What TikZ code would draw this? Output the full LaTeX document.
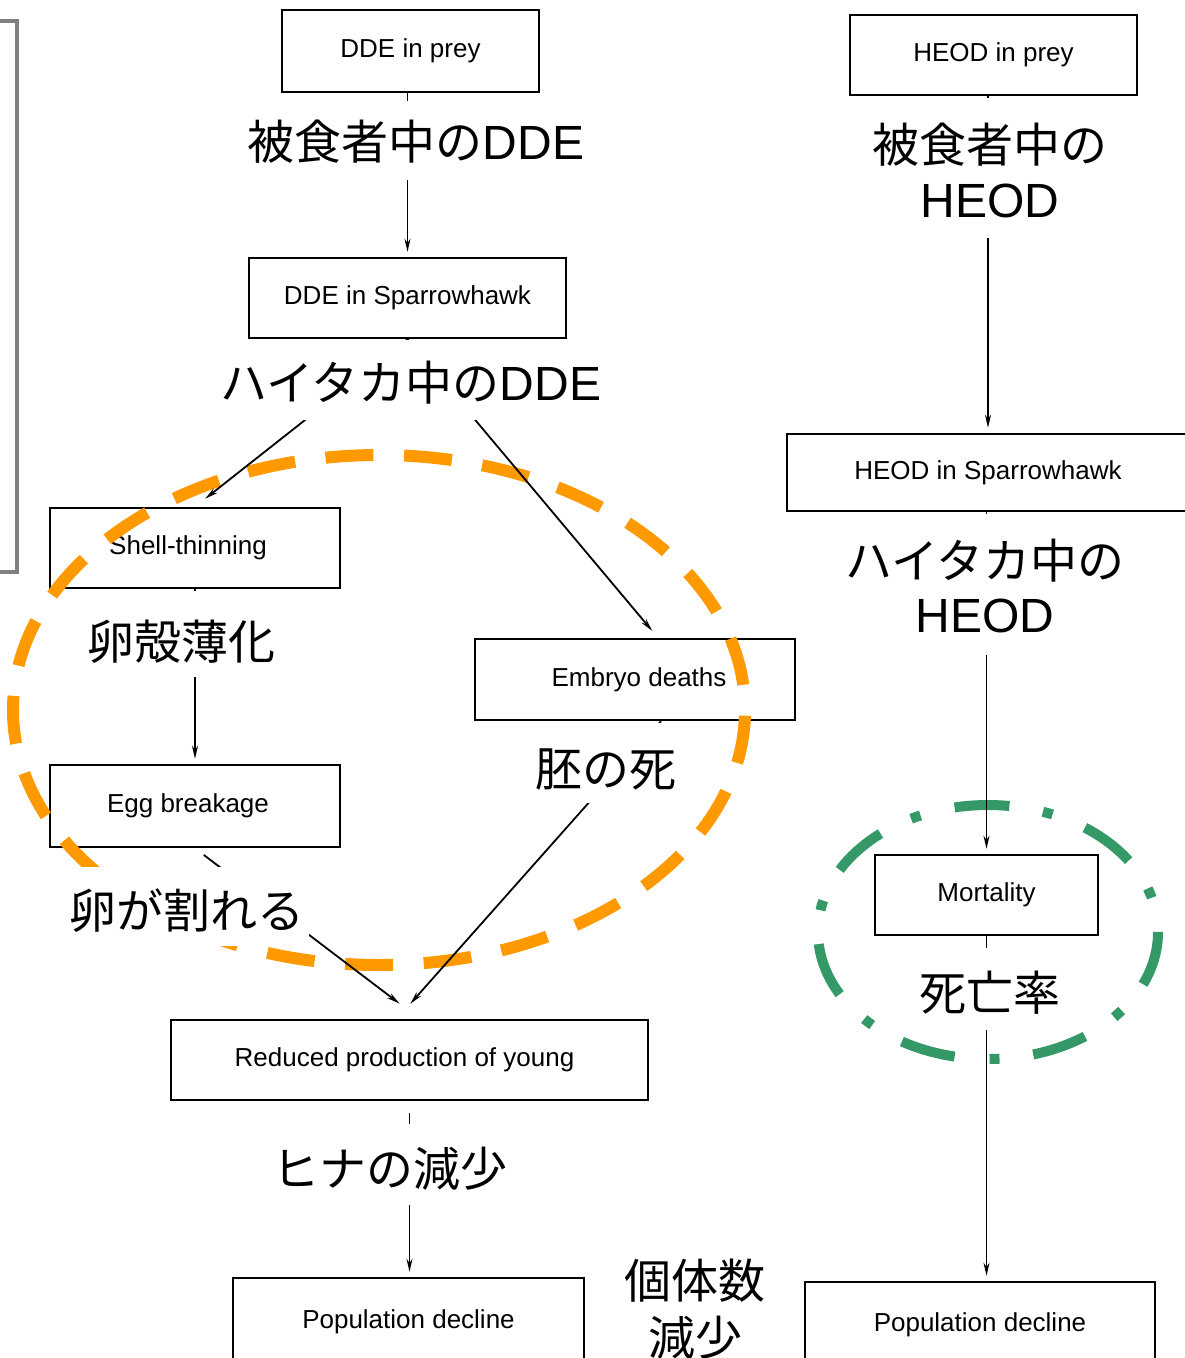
\documentclass[tikz,border=0pt]{standalone}
\usepackage{fontspec}
\setmainfont{Liberation Sans}
\newfontfamily\jpfont{Noto Sans CJK JP}
\newfontfamily\latfont{Liberation Sans}
\newcommand\mylat[1]{{\latfont\fontsize{48}{55}\selectfont #1}}
\usetikzlibrary{arrows.meta}
\definecolor{ora}{RGB}{255,153,0}
\definecolor{grn}{RGB}{52,153,102}
\definecolor{framegray}{RGB}{128,128,128}
\begin{document}
\begin{tikzpicture}[x=1pt,y=-1pt,
 box/.style={draw, line width=2.5pt, inner sep=0pt, font=\fontsize{26}{30}\selectfont},
 jlab/.style 2 args={fill=white, anchor=base, inner xsep=4pt, inner ysep=0pt,
   text height=#1, text depth=#2, font=\jpfont\fontsize{47}{55}\selectfont},
 arr/.style={line width=1.8pt, -{Stealth[length=13pt,width=6pt]}, shorten >=5pt},
 oval/.style={line width=12pt, ora, dash pattern=on 48pt off 30.66pt, dash phase=73pt},
 goval/.style={line width=10pt, grn, dash pattern=on 55pt off 34pt on 10pt off 35pt},
]
\useasboundingbox (0,0) rectangle (1185,1358);
\clip (0,0) rectangle (1185,1358);
\fill[white] (0,0) rectangle (1185,1358);
\draw[framegray, line width=4pt] (-10,21) -- (17,21) -- (17,572) -- (-10,572);

% boxes
\node[box, minimum width=257, minimum height=82] (dp) at (410.5,51) {DDE in prey};
\node[box, minimum width=317, minimum height=80] (ds) at (407.5,298) {DDE in Sparrowhawk};
\node[box, minimum width=290, minimum height=80] (shell) at (195,548) {\hspace*{-14pt}Shell-thinning};
\node[box, minimum width=290, minimum height=82] (egg) at (195,806) {\hspace*{-14pt}Egg breakage};
\node[box, minimum width=320, minimum height=81] (emb) at (635,679.5) {Embryo deaths\hspace*{-8pt}};
\node[box, minimum width=477, minimum height=80] (red) at (409.5,1060) {\hspace*{-10pt}Reduced production of young};
\node[box, minimum width=351, minimum height=88] (pd1) at (408.5,1322) {Population decline};
\node[box, minimum width=287, minimum height=80] (hp) at (993.5,55) {HEOD in prey};
\node[box, minimum width=402, minimum height=77] (hs) at (988,472.5) {HEOD in Sparrowhawk};
\node[box, minimum width=223, minimum height=80] (mort) at (986.5,895) {Mortality};
\node[box, minimum width=350, minimum height=86] (pd2) at (980,1325) {Population decline};

% highlight ovals
\draw[oval] (745,710) arc[start angle=0, end angle=-360, x radius=366pt, y radius=255pt];
\draw[goval] (1158,932) arc[start angle=0, end angle=-360, x radius=170pt, y radius=127pt];

% arrows
\draw[arr] (ds.north |- dp.south) -- (ds.north);
\draw[arr, shorten >=13pt] (ds.south) -- (shell.north);
\draw[arr, shorten >=9pt] (ds.south) -- ([xshift=23pt]emb.north);
\draw[arr] (shell.south) -- (egg.north);
\draw[arr, shorten <=11pt, shorten >=25pt] (egg.south) -- ([xshift=10pt]red.north);
\draw[arr, shorten >=20pt] ([xshift=26pt]emb.south) -- ([xshift=-12.5pt]red.north);
\draw[arr, shorten <=12pt] (red.south) -- (red.south |- pd1.north);
\draw[arr] (hs.north |- hp.south) -- (hs.north);
\draw[arr] (mort.north |- hs.south) -- (mort.north);
\draw[arr] (mort.south) -- (mort.south |- pd2.north);

% Japanese labels (white ground hides the connectors behind them)
\node[jlab={58pt}{21pt}] (l1) at (416,159) {被食者中の\mylat{DDE}};
\node[jlab={60pt}{20pt}] (l2) at (411,400) {ハイタカ中の\mylat{DDE}};
\node[jlab={68pt}{18pt}] (l3) at (181,659) {卵殻薄化};
\node[jlab={63pt}{17pt}] (l4) at (606,786) {胚の死};
\node[jlab={61pt}{18pt}] (l5) at (187,928) {卵が割れる};
\node[jlab={62pt}{19pt}] (l6) at (390,1186) {ヒナの減少};
\node[jlab={45pt}{10pt}] (l7a) at (695,1298) {個体数};
\node[jlab={47pt}{10pt}] (l7b) at (695,1355) {減少};
\node[jlab={64pt}{18pt}] (r1a) at (990,162) {被食者中の};
\node[jlab={37pt}{21pt}] (r1b) at (990,217) {\mylat{HEOD}};
\node[jlab={64pt}{18pt}] (r2a) at (985,578) {ハイタカ中の};
\node[jlab={36pt}{23pt}] (r2b) at (985,632) {\mylat{HEOD}};
\node[jlab={62pt}{20pt}] (r3) at (990,1010) {死亡率};
\end{tikzpicture}
\end{document}
